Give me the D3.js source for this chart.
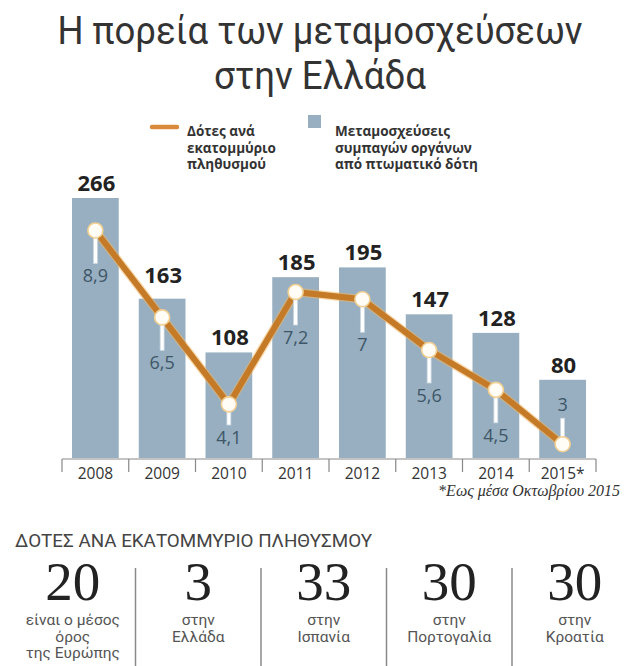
<!DOCTYPE html>
<html>
<head>
<meta charset="utf-8">
<script src="https://cdn.jsdelivr.net/npm/d3@7"></script>
<style>
  html, body { margin: 0; padding: 0; background: #ffffff; }
  svg { display: block; }
</style>
</head>
<body>
<svg id="chart" width="624" height="666"></svg>
<script>
// Transplants of solid organs from deceased donors, Greece
const years = ["2008", "2009", "2010", "2011", "2012", "2013", "2014", "2015*"];
const transplants = [266, 163, 108, 185, 195, 147, 128, 80];
const donorsPerMillion = [8.9, 6.5, 4.1, 7.2, 7, 5.6, 4.5, 3];

// Donors per million population, comparison strip
const compareValues = [20, 3, 33, 30, 30];
const compareLabels = [
  ["είναι ο μέσος", "όρος", "της Ευρώπης"],
  ["στην", "Ελλάδα"],
  ["στην", "Ισπανία"],
  ["στην", "Πορτογαλία"],
  ["στην", "Κροατία"]
];

const titleLines = ["Η πορεία των μεταμοσχεύσεων", "στην Ελλάδα"];
const legendLine = ["Δότες ανά", "εκατομμύριο", "πληθυσμού"];
const legendBars = ["Μεταμοσχεύσεις", "συμπαγών οργάνων", "από πτωματικό δότη"];
const footnote = "*Εως μέσα Οκτωβρίου 2015";
const stripTitle = "ΔΟΤΕΣ ΑΝΑ ΕΚΑΤΟΜΜΥΡΙΟ ΠΛΗΘΥΣΜΟΥ";

const svg = d3.select("#chart");
const BAR = "#97afc0";
const LINE = "#c47a26";
const fmt = v => String(v).replace(".", ",");

// Multi-line text block as one <text> with stacked tspans
function stacked(sel, lines, x, lineHeight) {
  sel.selectAll("tspan").data(lines).join("tspan")
    .attr("x", x).attr("dy", (d, i) => i === 0 ? 0 : lineHeight).text(d => d);
  return sel;
}

// ---- Title ----
const titleWidths = [525, 212];
svg.append("g").selectAll("text").data(titleLines).join("text")
  .attr("x", 320)
  .attr("y", (d, i) => 44 + i * 45)
  .attr("text-anchor", "middle")
  .attr("font-family", "Roboto, sans-serif")
  .attr("font-weight", 400)
  .attr("font-size", 38)
  .attr("fill", "#333")
  .attr("textLength", (d, i) => titleWidths[i])
  .attr("lengthAdjust", "spacingAndGlyphs")
  .text(d => d);

// ---- Legend ----
const legend = svg.append("g").attr("font-family", "'Open Sans', sans-serif")
  .attr("font-weight", 700).attr("font-size", 13.5).attr("fill", "#333");
legend.append("line").attr("x1", 152).attr("x2", 177).attr("y1", 127).attr("y2", 127)
  .attr("stroke", "#d98a3a").attr("stroke-width", 4.5).attr("stroke-linecap", "round");
legend.append("text").attr("y", 136).call(stacked, legendLine, 187, 16.5);
legend.append("rect").attr("x", 308).attr("y", 115).attr("width", 13).attr("height", 13)
  .attr("fill", BAR);
legend.append("text").attr("y", 136).call(stacked, legendBars, 335, 16.5);

// ---- Scales ----
const x = d3.scaleBand().domain(years).range([62, 596]).paddingInner(0.3).paddingOuter(0.15);
const y = d3.scaleLinear().domain([0, 266]).range([458, 198]);
const yLine = d3.scaleLinear().domain([0, 10]).range([552.9, 190.6]);
const cx = d => x(d) + x.bandwidth() / 2;

// ---- Bars ----
svg.append("g").selectAll("rect").data(years).join("rect")
  .attr("x", d => x(d))
  .attr("y", (d, i) => y(transplants[i]))
  .attr("width", x.bandwidth())
  .attr("height", (d, i) => y(0) - y(transplants[i]))
  .attr("fill", BAR);

// ---- Axis: baseline, separators between years, year labels ----
const axis = svg.append("g").attr("transform", "translate(0,459)");
axis.call(d3.axisBottom(x).tickSize(0).tickPadding(9))
  .call(g => g.select(".domain").remove());
axis.selectAll(".tick text")
  .attr("font-family", "'Open Sans', sans-serif")
  .attr("font-size", 15.5)
  .attr("fill", "#333")
  .attr("dy", "0.71em");
axis.append("line").attr("x1", x.range()[0]).attr("x2", x.range()[1])
  .attr("stroke", "#888").attr("stroke-width", 1);
const bounds = years.map(d => x(d) - x.step() * x.paddingInner() / 2).concat([x.range()[1]]);
axis.append("g").selectAll("line").data(bounds).join("line")
  .attr("x1", d => d).attr("x2", d => d).attr("y1", 0).attr("y2", 13)
  .attr("stroke", "#888").attr("stroke-width", 1.2);

// ---- Line points ----
const pts = years.map((d, i) => ({ x: cx(d), y: yLine(donorsPerMillion[i]), v: donorsPerMillion[i] }));
const lineGen = d3.line().x(d => d.x).y(d => d.y);

// Value labels on the bars, lifted where the donor line would cross them
const lineYAt = px => {
  for (let i = 0; i < pts.length - 1; i++) {
    if (px >= pts[i].x && px <= pts[i + 1].x) {
      const t = (px - pts[i].x) / (pts[i + 1].x - pts[i].x);
      return pts[i].y + t * (pts[i + 1].y - pts[i].y);
    }
  }
  return Infinity;
};
svg.append("g").selectAll("text").data(years).join("text")
  .attr("x", d => cx(d) + 1)
  .attr("y", (d, i) => {
    let b = y(transplants[i]) - 7;
    const half = 20;
    const minLine = Math.min(lineYAt(cx(d) - half), lineYAt(cx(d) + half));
    if (b > minLine - 8) b = minLine - 8;
    return b;
  })
  .attr("text-anchor", "middle")
  .attr("font-family", "'Open Sans', sans-serif")
  .attr("font-weight", 700)
  .attr("font-size", 22)
  .attr("fill", "#222")
  .text((d, i) => transplants[i]);

// Placement of each donor label: below the point, or above when near the baseline
const placed = pts.map(p => {
  const roomBelow = y(0) - p.y;
  if (roomBelow < 40) {
    return { ...p, above: true, ty: p.y - 33, l1: p.y - 26, l2: p.y };
  }
  const ty = Math.min(p.y + 52, y(0) - 14);
  return { ...p, above: false, ty, l1: p.y, l2: ty - 19 };
});

// Orange line with a soft light edge
svg.append("path").datum(pts).attr("d", lineGen)
  .attr("fill", "none").attr("stroke", "#f0b561").attr("stroke-width", 8.5)
  .attr("stroke-linejoin", "round").attr("opacity", 0.55);
svg.append("path").datum(pts).attr("d", lineGen)
  .attr("fill", "none").attr("stroke", LINE).attr("stroke-width", 6)
  .attr("stroke-linejoin", "round");

// Leader sticks from point to label
svg.append("g").selectAll("rect").data(placed).join("rect")
  .attr("x", d => d.x - 2)
  .attr("y", d => d.l1)
  .attr("width", 4)
  .attr("height", d => d.l2 - d.l1)
  .attr("fill", "#ffffff")
  .attr("stroke", "#c9d6df")
  .attr("stroke-width", 0.8);

// Point markers
svg.append("g").selectAll("circle").data(pts).join("circle")
  .attr("cx", d => d.x).attr("cy", d => d.y).attr("r", 7.5)
  .attr("fill", "#fffdf6").attr("stroke", "#f2cf92").attr("stroke-width", 1.6);

// Donor labels
svg.append("g").selectAll("text").data(placed).join("text")
  .attr("x", d => d.x)
  .attr("y", d => d.ty)
  .attr("text-anchor", "middle")
  .attr("font-family", "'Open Sans', sans-serif")
  .attr("font-size", 18)
  .attr("fill", "#3e5668")
  .text(d => fmt(d.v));

// Footnote
svg.append("text").attr("x", 620).attr("y", 496).attr("text-anchor", "end")
  .attr("font-family", "'Liberation Serif', serif").attr("font-style", "italic")
  .attr("font-size", 16).attr("fill", "#333").text(footnote);

// ---- Comparison strip ----
svg.append("text").attr("x", 15).attr("y", 547)
  .attr("font-family", "Roboto, sans-serif").attr("font-size", 19)
  .attr("fill", "#444")
  .attr("textLength", 357).attr("lengthAdjust", "spacingAndGlyphs")
  .text(stripTitle);

const col = d3.scaleBand().domain(d3.range(compareValues.length)).range([10, 637.5]);
const cols = svg.append("g").selectAll("g").data(compareValues).join("g")
  .attr("transform", (d, i) => `translate(${col(i) + col.bandwidth() / 2},0)`);
cols.append("text").attr("y", 600).attr("text-anchor", "middle")
  .attr("font-family", "'Liberation Serif', serif").attr("font-size", 55)
  .attr("fill", "#222").text(d => d);
cols.append("text").attr("y", 625)
  .attr("text-anchor", "middle")
  .attr("font-family", "Roboto, sans-serif").attr("font-size", 15.5)
  .attr("fill", "#555")
  .each(function (d, i) { d3.select(this).call(stacked, compareLabels[i], 0, 16.5); });

svg.append("g").selectAll("line").data(d3.range(1, compareValues.length)).join("line")
  .attr("x1", i => col(i)).attr("x2", i => col(i))
  .attr("y1", 568).attr("y2", 666)
  .attr("stroke", "#8a8a8a").attr("stroke-width", 1.5);
</script>
</body>
</html>
